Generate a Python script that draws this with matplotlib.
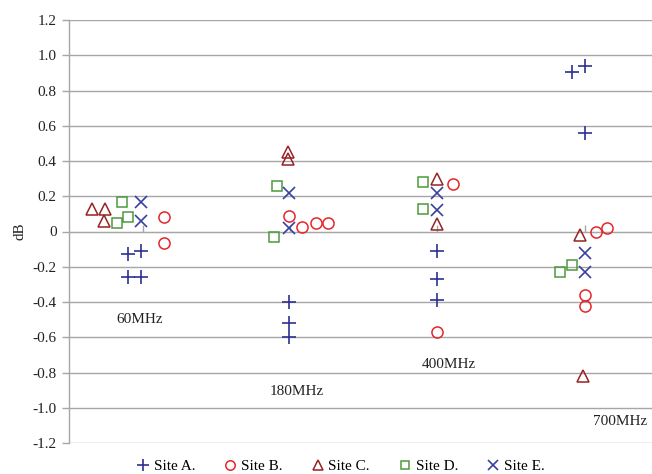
import matplotlib
matplotlib.use("Agg")
import matplotlib.pyplot as plt
from matplotlib.lines import Line2D

plt.rcParams['font.family'] = ['Liberation Serif', 'DejaVu Serif']

# Data (x = frequency group position with small horizontal offsets, y = dB)
site_a_x = [0.898, 0.986, 0.898, 0.986, 1.991, 1.991, 1.991, 2.996, 2.996, 2.996, 3.912, 4.0, 4.0]
site_a_y = [-0.13, -0.11, -0.26, -0.26, -0.40, -0.52, -0.60, -0.11, -0.27, -0.39, 0.905, 0.94, 0.56]

site_b_x = [1.143, 1.143, 1.991, 2.079, 2.174, 2.256, 3.105, 2.996, 4.075, 4.15, 4.0, 4.0]
site_b_y = [0.08, -0.065, 0.09, 0.025, 0.05, 0.05, 0.27, -0.57, 0.0, 0.02, -0.36, -0.42]

site_c_x = [0.654, 0.742, 0.735, 1.984, 1.984, 2.996, 2.996, 3.967, 3.987]
site_c_y = [0.13, 0.13, 0.06, 0.45, 0.41, 0.30, 0.04, -0.02, -0.82]

site_d_x = [0.857, 0.898, 0.823, 1.91, 1.889, 2.90, 2.90, 3.83, 3.91]
site_d_y = [0.17, 0.08, 0.05, 0.26, -0.03, 0.28, 0.13, -0.23, -0.19]

site_e_x = [0.986, 0.986, 1.991, 1.991, 2.996, 2.996, 4.0, 4.0]
site_e_y = [0.17, 0.06, 0.22, 0.02, 0.22, 0.12, -0.12, -0.23]

freq_labels = ["60MHz", "180MHz", "400MHz", "700MHz"]
freq_label_x = [0.98, 2.045, 3.08, 4.24]
freq_label_y = [-0.50, -0.91, -0.757, -1.08]

group_ticks = [1, 2, 3, 4]
y_ticks = [-1.2, -1.0, -0.8, -0.6, -0.4, -0.2, 0, 0.2, 0.4, 0.6, 0.8, 1.0, 1.2]
y_tick_labels = ["-1.2", "-1.0", "-0.8", "-0.6", "-0.4", "-0.2", "0", "0.2", "0.4", "0.6", "0.8", "1.0", "1.2"]

series = [
    ("Site A.", site_a_x, site_a_y, '+', '#2E3192', 10.5, 'full'),
    ("Site B.", site_b_x, site_b_y, 'o', '#E3262B', 8.0, 'none'),
    ("Site C.", site_c_x, site_c_y, '^', '#962323', 9.0, 'none'),
    ("Site D.", site_d_x, site_d_y, 's', '#4C9A3C', 7.5, 'none'),
    ("Site E.", site_e_x, site_e_y, 'x', '#3840A0', 9.0, 'full'),
]

FS = 11
fig = plt.figure(figsize=(6.52, 4.74), dpi=100)
ax = fig.add_axes([69/652, 31/474, 1 - 69/652, (443 - 20)/474])

grid_color = '#A6A6A6'
for name, xs, ys, m, c, ms, fill in series:
    if fill == 'none':
        ax.plot(xs, ys, linestyle='none', marker=m, markersize=ms, markerfacecolor='none',
                markeredgecolor=c, markeredgewidth=1.1, zorder=3)
    else:
        ax.plot(xs, ys, linestyle='none', marker=m, markersize=ms, color=c,
                markeredgewidth=1.2, zorder=3)

for t, lx, ly in zip(freq_labels, freq_label_x, freq_label_y):
    ax.text(lx, ly, t, ha='center', va='center', fontsize=FS, color='#222222')

ax.set_ylim(-1.2, 1.2)
ax.set_xlim(0.5, 1 + (652 - 143) / 147.3)
ax.set_yticks(y_ticks)
ax.set_yticklabels(y_tick_labels)
ax.yaxis.grid(True, color=grid_color, linewidth=1.0)
ax.set_axisbelow(True)
ax.tick_params(axis='y', length=5, width=1, color=grid_color, labelsize=FS, pad=4, labelcolor='#222222')

# x-axis crossing at 0 with inward ticks and no labels
ax.spines['bottom'].set_position(('data', 0))
ax.spines['bottom'].set_color(grid_color)
ax.set_xticks(group_ticks)
ax.set_xticklabels([])
ax.tick_params(axis='x', direction='in', length=5, width=1, color=grid_color)
ax.spines['top'].set_visible(False)
ax.spines['right'].set_visible(False)
ax.spines['left'].set_color(grid_color)
ax.spines['left'].set_linewidth(1.0)

ax.set_ylabel("dB", fontsize=FS, labelpad=4, color='#222222')

handles = []
for name, xs, ys, m, c, ms, fill in series:
    if fill == 'none':
        h = Line2D([], [], linestyle='none', marker=m, markersize=ms * 0.85, markerfacecolor='none',
                   markeredgecolor=c, markeredgewidth=1.1, label=name)
    else:
        h = Line2D([], [], linestyle='none', marker=m, markersize=ms * 0.85, color=c,
                   markeredgewidth=1.2, label=name)
    handles.append(h)
fig.legend(handles=handles, loc='center', bbox_to_anchor=(340/652, 1 - 466/474), ncol=5,
           frameon=False, fontsize=FS, handletextpad=0.2, columnspacing=1.8, handlelength=1.0)

fig.savefig("out.png", dpi=100)
